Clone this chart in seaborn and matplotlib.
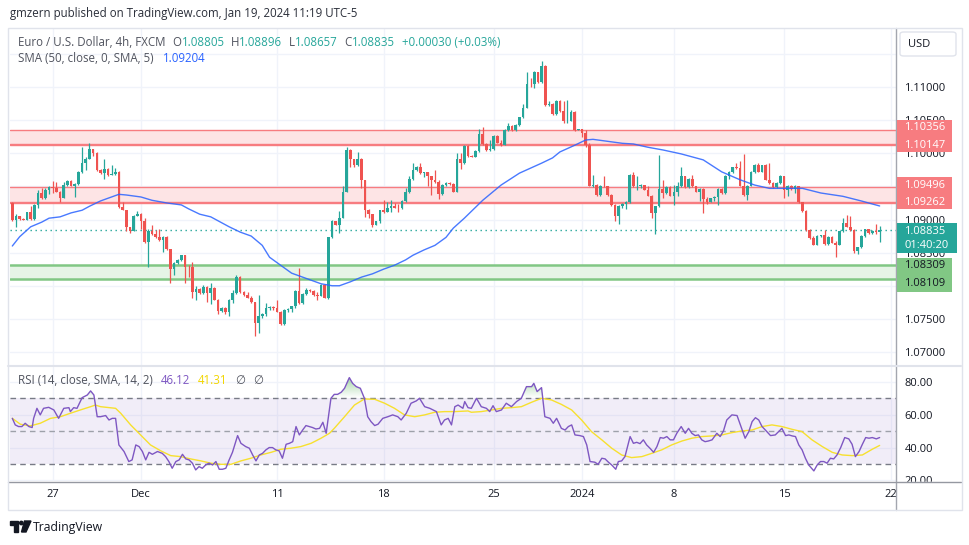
import numpy as np
import pandas as pd
import matplotlib
matplotlib.use("Agg")
import matplotlib.pyplot as plt
import seaborn as sns
from matplotlib.patches import Rectangle, FancyBboxPatch, Polygon, Ellipse
from matplotlib.lines import Line2D
from matplotlib.path import Path
from matplotlib.colors import LinearSegmentedColormap

################ DATA (EUR/USD 4h) ################

first_open = 1.09245

closes = [
    1.0900, 1.0905, 1.0901, 1.0900, 1.0911, 1.0901, 1.0922, 1.0940, 1.0932, 1.0945,
    1.0949, 1.0947, 1.0942, 1.0933, 1.0952, 1.0958, 1.0951, 1.0954, 1.0971, 1.0986,
    1.0992, 1.1006, 1.1001, 1.0974, 1.0970, 1.0976, 1.0967, 1.0969, 1.0972, 1.0919,
    1.0915, 1.0888, 1.0883, 1.0906, 1.0909, 1.0897, 1.0866, 1.0882, 1.0878, 1.0873,
    1.0869, 1.0874, 1.0855, 1.0825, 1.0835, 1.0839, 1.0846, 1.0829, 1.0828, 1.0790,
    1.0795, 1.0789, 1.0798, 1.0789, 1.0797, 1.0779, 1.0762, 1.0767, 1.0760, 1.0779,
    1.0789, 1.0813,
    1.0790, 1.0786, 1.0782, 1.0775, 1.0744, 1.0754, 1.0758, 1.0767, 1.0768, 1.0766,
    1.0761, 1.0742, 1.0764, 1.0765, 1.0769, 1.0792, 1.0774, 1.0787, 1.0794, 1.0792,
    1.0786, 1.0785, 1.0801, 1.0782, 1.0873, 1.0897, 1.0892, 1.0903, 1.0942, 1.1005,
    1.0991, 1.0982, 1.0992, 1.0959, 1.0914, 1.0908, 1.0892, 1.0897, 1.0914, 1.0912,
    1.0918, 1.0920, 1.0918, 1.0917, 1.0928, 1.0941, 1.0961, 1.0975, 1.0980, 1.0970,
    1.0971, 1.0965, 1.0959, 1.0956, 1.0938, 1.0952, 1.0955, 1.0953, 1.0942, 1.0991,
    1.0985, 1.1011, 1.0996, 1.0995, 1.1003, 1.1029, 1.1014,
    1.1005, 1.1006, 1.1026, 1.1016, 1.1013, 1.1035, 1.1041, 1.1035, 1.1043, 1.1054,
    1.1069, 1.1105, 1.1104, 1.1122, 1.1107, 1.1131, 1.1073, 1.1075, 1.1059, 1.1079,
    1.1064, 1.1048, 1.1049, 1.1063, 1.1035, 1.1036, 1.1031, 1.1013, 1.0951, 1.0952,
    1.0937, 1.0951, 1.0950, 1.0937, 1.0922, 1.0906, 1.0920, 1.0924, 1.0927, 1.0967,
    1.0950, 1.0951, 1.0952, 1.0945, 1.0936, 1.0910, 1.0920, 1.0946,
    1.0940, 1.0949, 1.0936, 1.0942, 1.0951, 1.0965, 1.0949, 1.0961, 1.0950, 1.0942,
    1.0946, 1.0931, 1.0927, 1.0932, 1.0934, 1.0946, 1.0940, 1.0966, 1.0972, 1.0979,
    1.0977, 1.0951, 1.0937, 1.0951, 1.0972, 1.0982, 1.0972, 1.0982, 1.0960, 1.0955,
    1.0949, 1.0955, 1.0965, 1.0945, 1.0950, 1.0946, 1.0950, 1.0926, 1.0913, 1.0884,
    1.0872, 1.0862, 1.0875, 1.0876, 1.0863, 1.0874, 1.0865, 1.0862, 1.0882, 1.0894,
    1.0889, 1.0884, 1.0852, 1.0858, 1.0875, 1.0885, 1.0879, 1.0882, 1.08805, 1.08835,
]

highs = [
    1.0926, 1.0909, 1.0906, 1.0902, 1.0912, 1.0920, 1.0923, 1.0945, 1.0947, 1.0947,
    1.0950, 1.0958, 1.0956, 1.0943, 1.0957, 1.0960, 1.0959, 1.0955, 1.0973, 1.1010,
    1.0994, 1.1016, 1.1007, 1.1002, 1.0976, 1.0992, 1.0977, 1.0983, 1.0977, 1.0973,
    1.0926, 1.0914, 1.0889, 1.0907, 1.0913, 1.0910, 1.0902, 1.0886, 1.0892, 1.0884,
    1.0885, 1.0875, 1.0875, 1.0855, 1.0836, 1.0840, 1.0847, 1.0847, 1.0832, 1.0836,
    1.0799, 1.0796, 1.0801, 1.0800, 1.0804, 1.0798, 1.0780, 1.0768, 1.0768, 1.0780,
    1.0794, 1.0816,
    1.0815, 1.0792, 1.0790, 1.0785, 1.0776, 1.0786, 1.0759, 1.0774, 1.0770, 1.0769,
    1.0779, 1.0762, 1.0765, 1.0766, 1.0770, 1.0794, 1.0827, 1.0789, 1.0796, 1.0795,
    1.0794, 1.0791, 1.0803, 1.0802, 1.0874, 1.0899, 1.0898, 1.0913, 1.0951, 1.1009,
    1.1006, 1.0992, 1.1002, 1.0993, 1.0960, 1.0916, 1.0909, 1.0898, 1.0915, 1.0929,
    1.0927, 1.0929, 1.0925, 1.0923, 1.0929, 1.0947, 1.0965, 1.0986, 1.0981, 1.0985,
    1.0972, 1.0971, 1.0966, 1.0975, 1.0960, 1.0954, 1.0956, 1.0956, 1.0955, 1.1001,
    1.1001, 1.1013, 1.1012, 1.0997, 1.1005, 1.1036, 1.1039,
    1.1016, 1.1020, 1.1028, 1.1027, 1.1020, 1.1037, 1.1045, 1.1042, 1.1044, 1.1055,
    1.1074, 1.1122, 1.1113, 1.1124, 1.1122, 1.1139, 1.1133, 1.1079, 1.1076, 1.1081,
    1.1080, 1.1079, 1.1080, 1.1065, 1.1064, 1.1037, 1.1037, 1.1035, 1.1016, 1.0967,
    1.0953, 1.0952, 1.0965, 1.0951, 1.0938, 1.0923, 1.0922, 1.0925, 1.0928, 1.0969,
    1.0971, 1.0965, 1.0954, 1.0952, 1.0950, 1.0937, 1.0921, 1.0998,
    1.0960, 1.0950, 1.0950, 1.0952, 1.0957, 1.0980, 1.0966, 1.0962, 1.0967, 1.0951,
    1.0947, 1.0947, 1.0934, 1.0933, 1.0935, 1.0947, 1.0947, 1.0967, 1.0973, 1.0980,
    1.0985, 1.0989, 1.0999, 1.0952, 1.0973, 1.0984, 1.0985, 1.0983, 1.0984, 1.0986,
    1.0957, 1.0956, 1.0967, 1.0966, 1.0952, 1.0952, 1.0952, 1.0951, 1.0927, 1.0914,
    1.0886, 1.0875, 1.0876, 1.0877, 1.0884, 1.0875, 1.0875, 1.0867, 1.0883, 1.0902,
    1.0907, 1.0905, 1.0885, 1.0859, 1.0876, 1.0886, 1.0886, 1.0884, 1.0893, 1.08896,
]

lows = [
    1.0897, 1.0888, 1.0899, 1.0899, 1.0899, 1.0900, 1.0900, 1.0918, 1.0931, 1.0931,
    1.0938, 1.0940, 1.0941, 1.0926, 1.0932, 1.0951, 1.0950, 1.0934, 1.0952, 1.0970,
    1.0975, 1.0991, 1.0996, 1.0973, 1.0969, 1.0961, 1.0966, 1.0967, 1.0967, 1.0918,
    1.0914, 1.0883, 1.0879, 1.0882, 1.0905, 1.0886, 1.0865, 1.0829, 1.0877, 1.0872,
    1.0868, 1.0851, 1.0854, 1.0804, 1.0816, 1.0833, 1.0837, 1.0804, 1.0813, 1.0781,
    1.0778, 1.0788, 1.0788, 1.0775, 1.0773, 1.0778, 1.0758, 1.0761, 1.0757, 1.0755,
    1.0774, 1.0788,
    1.0789, 1.0785, 1.0781, 1.0774, 1.0724, 1.0729, 1.0752, 1.0755, 1.0764, 1.0764,
    1.0760, 1.0741, 1.0741, 1.0761, 1.0761, 1.0767, 1.0773, 1.0773, 1.0786, 1.0790,
    1.0785, 1.0779, 1.0784, 1.0781, 1.0780, 1.0872, 1.0891, 1.0880, 1.0902, 1.0941,
    1.0980, 1.0979, 1.0981, 1.0947, 1.0904, 1.0903, 1.0888, 1.0891, 1.0895, 1.0910,
    1.0911, 1.0912, 1.0917, 1.0912, 1.0916, 1.0927, 1.0940, 1.0960, 1.0973, 1.0968,
    1.0964, 1.0951, 1.0937, 1.0955, 1.0931, 1.0937, 1.0951, 1.0952, 1.0941, 1.0941,
    1.0976, 1.0984, 1.0995, 1.0994, 1.0994, 1.1002, 1.1013,
    1.1004, 1.1004, 1.1005, 1.1015, 1.1011, 1.1012, 1.1034, 1.1034, 1.1034, 1.1041,
    1.1053, 1.1068, 1.1100, 1.1098, 1.1106, 1.1106, 1.1072, 1.1071, 1.1058, 1.1058,
    1.1063, 1.1045, 1.1046, 1.1048, 1.1034, 1.1035, 1.1025, 1.1010, 1.0950, 1.0949,
    1.0936, 1.0936, 1.0949, 1.0936, 1.0920, 1.0898, 1.0893, 1.0918, 1.0916, 1.0925,
    1.0949, 1.0944, 1.0948, 1.0944, 1.0935, 1.0903, 1.0878, 1.0919,
    1.0932, 1.0939, 1.0935, 1.0922, 1.0935, 1.0949, 1.0948, 1.0948, 1.0949, 1.0941,
    1.0928, 1.0910, 1.0924, 1.0926, 1.0928, 1.0922, 1.0939, 1.0939, 1.0961, 1.0970,
    1.0976, 1.0950, 1.0936, 1.0929, 1.0950, 1.0970, 1.0971, 1.0971, 1.0959, 1.0954,
    1.0947, 1.0947, 1.0954, 1.0932, 1.0936, 1.0945, 1.0940, 1.0925, 1.0912, 1.0883,
    1.0871, 1.0861, 1.0861, 1.0874, 1.0862, 1.0862, 1.0864, 1.0844, 1.0861, 1.0881,
    1.0888, 1.0883, 1.0849, 1.0848, 1.0857, 1.0874, 1.0878, 1.0878, 1.0878, 1.08657,
]

# SMA(50) read at bar positions
sma_bar = [0, 2, 5, 8, 10, 13, 16, 19, 21, 24, 27, 29, 31, 35, 38, 42, 46, 48, 51, 54,
           57, 59, 62, 65, 68, 70, 73, 76, 79, 81, 84, 87, 89, 92, 95, 98, 101, 104, 107, 109,
           112, 115, 118, 120, 123, 128, 133, 138, 144, 147, 149, 153, 156, 158, 162, 166, 169, 173, 177, 182,
           188, 193, 198, 202, 206, 211, 215, 220, 226, 231, 236]
sma_val = [1.0860, 1.0874, 1.0889, 1.0896, 1.0902, 1.0904, 1.0910, 1.0914, 1.0920, 1.0928,
           1.0934, 1.0938, 1.0937, 1.0934, 1.0929, 1.0925, 1.0922, 1.0916, 1.0908, 1.0904,
           1.0895, 1.0889, 1.0881, 1.0875, 1.0861, 1.0843, 1.0831, 1.0819, 1.0813, 1.0809,
           1.0803, 1.0800, 1.0800, 1.0806, 1.0813, 1.0818, 1.0825, 1.0831, 1.0839, 1.0846,
           1.0854, 1.0861, 1.0873, 1.0887, 1.0902, 1.0929, 1.0952, 1.0970, 1.0985, 1.0993,
           1.1002, 1.1012, 1.1020, 1.1021, 1.1018, 1.1015, 1.1014, 1.1009, 1.1005, 1.0999,
           1.0990, 1.0972, 1.0960, 1.0952, 1.0947, 1.0947, 1.0947, 1.0940, 1.0935, 1.0928,
           1.09204]

# RSI(14)
rsi_bar = [0, 0.8, 1.7, 2.6, 3.5, 4.5, 5.4, 5.8, 6.7, 7.6,
           8.5, 9.9, 11.3, 12.6, 14.0, 15.4, 15.8, 16.7, 17.6, 19.0,
           20.4, 21.3, 22.2, 23.1, 24.0, 25.4, 26.3, 27.2, 28.1, 29.0,
           30.4, 31.7, 32.6, 33.6, 34.5, 35.4, 36.3, 37.2, 38.1, 39.5,
           40.8, 41.7, 42.6, 43.5, 44.5, 45.4, 46.3, 47.2, 48.1, 49.0,
           49.9, 50.8, 51.7, 52.6, 53.5, 54.5, 55.4, 56.3, 57.2, 58.1,
           59.0, 59.9, 61.3, 62.2, 63.5, 64.5, 65.4, 66.3, 67.2, 68.1,
           69.0, 69.9, 70.8, 71.7, 72.6, 73.5, 74.5, 75.4, 76.3, 77.2,
           78.1, 79.0, 79.9, 80.8, 81.7, 82.6, 83.6, 84.5, 85.4, 86.7,
           87.6, 88.5, 89.5, 90.4, 91.7, 92.6, 93.6, 94.7, 95.8, 96.7,
           97.6, 98.6, 99.5, 100.8, 102.2, 103.5, 104.9, 105.8, 107.2, 108.5,
           109.9, 110.8, 112.2, 113.6, 115.4, 116.7, 117.6, 118.6, 119.5, 120.4,
           121.3, 122.6, 123.1, 124.0,
           124.9, 126.3, 127.6, 129.0, 129.9, 130.8, 131.7, 133.1, 134.4, 135.8,
           137.2, 138.5, 139.9, 141.3, 141.9, 142.8, 144.0, 144.9, 146.3, 147.2,
           148.1, 149.4, 150.4, 151.3, 152.2, 153.1, 154.4, 155.4, 156.3, 157.2,
           158.5, 159.4, 160.4, 161.3, 162.2, 163.1, 164.2, 164.9, 165.8, 166.7,
           168.1, 169.0, 169.9, 170.8, 171.7, 172.6, 173.5, 174.5, 175.4, 176.3,
           177.2, 178.1, 179.0, 179.9, 180.8, 182.0, 183.1, 184.0, 184.9, 185.8,
           186.7, 187.6, 188.5, 189.4, 190.4, 191.7, 192.6, 193.5, 194.4, 195.8,
           197.2, 198.1, 199.4, 200.4, 201.3, 202.2, 203.1, 204.0, 204.9, 206.3,
           207.6, 208.5, 209.4, 210.4, 211.3, 212.2, 213.1, 214.0, 214.9, 215.8,
           216.7, 218.1, 219.0, 219.9, 220.8, 221.7, 222.6, 223.5, 224.4, 225.4,
           226.5, 227.6, 228.5, 229.4, 230.4, 231.3, 232.2, 233.1, 234.0, 235.1,
           236.0]
rsi_val = [57.8, 53.8, 52.8, 52.8, 54.8, 52.8, 52.2, 57.8, 63.9, 59.9,
           63.9, 64.5, 62.9, 57.8, 63.9, 64.3, 61.9, 64.3, 63.9, 70.4,
           72.0, 74.5, 72.0, 58.8, 58.8, 59.5, 56.8, 57.8, 57.8, 41.6,
           37.6, 31.5, 32.5, 41.6, 40.6, 37.6, 32.5, 37.1, 35.9, 37.6,
           36.5, 34.5, 31.5, 27.4, 31.5, 32.5, 35.9, 33.1, 32.5, 30.5,
           26.4, 28.4, 27.4, 29.4, 30.5, 29.4, 31.5, 26.8, 26.8, 27.4,
           32.5, 37.1, 47.3, 42.6, 40.6, 39.6, 35.5, 31.9, 35.5, 36.5,
           38.6, 40.0, 40.0, 38.6, 38.0, 33.5, 42.0, 42.6, 43.6, 52.8,
           47.7, 50.7, 53.4, 52.8, 52.2, 51.3, 51.7, 55.4, 48.7, 70.0,
           72.4, 72.4, 73.7, 76.1, 82.6, 79.1, 77.1, 76.1, 70.0, 58.8,
           55.8, 53.4, 54.2, 57.8, 58.8, 59.9, 58.8, 56.8, 60.9, 67.0,
           68.4, 70.0, 64.9, 63.9, 61.9, 53.8, 56.8, 57.8, 53.8, 64.9,
           65.9, 63.9, 68.0, 64.3,
           63.9, 70.0, 64.9, 63.9, 61.9, 65.5, 61.9, 62.9, 67.0, 64.9,
           68.0, 70.0, 77.1, 77.1, 79.1, 74.1, 76.5, 58.8, 57.8, 54.8,
           57.8, 51.7, 50.7, 52.8, 53.8, 47.7, 47.3, 46.7, 41.6, 31.5,
           31.1, 29.8, 33.5, 33.1, 31.1, 29.4, 26.8, 31.5, 31.9, 34.5,
           46.7, 42.6, 43.2, 42.4, 44.7, 41.6, 39.6, 37.1, 40.6, 46.1,
           45.7, 46.7, 44.7, 44.7, 48.7, 52.8, 48.7, 51.7, 48.7, 47.3,
           47.7, 44.7, 43.6, 44.0, 44.7, 48.7, 46.7, 50.1, 56.8, 59.9,
           59.5, 53.8, 45.7, 49.7, 55.8, 58.2, 56.8, 52.8, 50.7, 47.3,
           47.7, 49.7, 51.7, 47.3, 47.7, 47.1, 46.7, 41.6, 38.6, 33.5,
           29.4, 25.8, 29.4, 31.5, 31.5, 30.5, 33.5, 33.1, 35.5, 40.0,
           46.1, 45.3, 42.0, 34.5, 37.6, 42.0, 46.1, 45.7, 46.1, 45.3,
           46.12]

# RSI-based moving average (14)
rsi_ma_bar = [0, 2.2, 4.9, 7.6, 10.4, 13.1, 15.8, 18.5, 21.3, 22.6,
              24.0, 28.1, 29.5, 32.2, 34.9, 37.6, 40.4, 43.1, 45.8, 48.5,
              51.3, 54.0, 56.7, 59.5, 62.2, 64.9, 67.6, 70.4, 73.1, 75.8,
              78.5, 81.3, 84.0, 86.3, 87.6, 90.4, 93.1, 95.8, 98.6, 101.3,
              104.0, 106.7, 109.5, 112.2, 114.9, 117.6, 120.4, 124.0,
              124.9, 127.6, 130.4, 133.1, 135.8, 138.5, 141.3, 144.0, 146.7, 149.4,
              152.2, 154.9, 157.6, 160.4, 163.1, 165.8, 168.5, 171.3, 174.0, 176.7,
              179.4, 182.2, 184.9, 187.6, 190.4, 193.1, 195.8, 198.5, 201.3, 204.0,
              206.7, 209.4, 212.2, 214.9, 217.6, 220.4, 223.1, 225.8, 228.5, 231.3,
              234.0, 236.0]
rsi_ma_val = [57.8, 54.2, 53.2, 54.8, 57.8, 58.8, 60.9, 62.9, 64.9, 65.9,
              64.9, 63.9, 60.9, 53.8, 47.7, 41.6, 38.0, 35.1, 34.5, 33.1,
              31.9, 30.5, 29.8, 29.8, 31.9, 33.5, 35.5, 37.1, 39.0, 39.6,
              40.6, 42.6, 45.7, 48.7, 51.7, 58.8, 65.9, 69.6, 69.4, 67.0,
              63.9, 59.9, 58.8, 59.9, 61.5, 61.9, 61.9, 62.3,
              61.5, 61.9, 62.9, 63.9, 64.3, 64.9, 67.6, 70.0, 69.0, 66.3,
              62.9, 56.8, 49.7, 44.7, 39.6, 35.5, 33.9, 34.5, 36.5, 38.6,
              41.6, 44.0, 45.7, 46.7, 47.1, 47.7, 49.1, 50.1, 50.7, 52.8,
              53.8, 52.8, 51.1, 49.7, 44.7, 40.6, 37.1, 35.5, 35.1, 35.5,
              39.0, 41.31]

tick_bars = [11, 35, 72, 101, 131, 155, 180, 210, 239]
tick_labels = ["27", "Dec", "11", "18", "25", "2024", "8", "15", "22"]
price_ticks = [1.070, 1.075, 1.080, 1.085, 1.090, 1.095, 1.100, 1.105, 1.110, 1.115]
price_tick_labels = ["1.07000", "1.07500", "", "1.08500", "1.09000", "", "1.10000", "1.10500", "1.11000", ""]
rsi_ticks = [20, 40, 60, 80]

red_zone_top = [1.10356, 1.09496]
red_zone_bottom = [1.10147, 1.09262]
green_zone = [1.08109, 1.08309]
last_price = 1.08835

################ STYLE ################
sns.set_style("white")
plt.rcParams["font.family"] = ["Open Sans", "DejaVu Sans"]

GREEN = "#26a69a"
RED = "#ef5350"
TXT = "#131722"
GREY = "#50535e"
ZONE_RED = "#f77c80"
ZONE_GREEN = "#81c784"
GRID = "#f0f3fa"

W, H = 970, 545
fig = plt.figure(figsize=(W / 100, H / 100), dpi=100)


def fx(x):
    return x / W


def fy(y):
    return 1 - y / H


def box(l, t, r, b):
    return [l / W, 1 - b / H, (r - l) / W, (b - t) / H]


ax = fig.add_axes(box(10, 28, 896, 365))
ax_r = fig.add_axes(box(10, 367, 896, 481))
ax_t = fig.add_axes(box(10, 482, 896, 510))

XLIM = (-0.63, 240.45)

################ CANDLES ################
df = pd.DataFrame({"close": closes, "high": highs, "low": lows})
df["open"] = [first_open] + closes[:-1]
df["bar"] = np.arange(len(df))
df["high"] = df[["high", "open", "close"]].max(axis=1)
df["low"] = df[["low", "open", "close"]].min(axis=1)
df["up"] = df["close"] >= df["open"]
df["body_lo"] = df[["open", "close"]].min(axis=1)
df["body_h"] = (df["close"] - df["open"]).abs().clip(lower=0.00008)

for p in price_ticks:
    ax.axhline(p, color=GRID, lw=1, zorder=0)
for b in tick_bars:
    ax.axvline(b, color=GRID, lw=1, zorder=0)
    ax_r.axvline(b, color=GRID, lw=1, zorder=0)

# support / resistance zones
for top, bot in zip(red_zone_top, red_zone_bottom):
    ax.axhspan(bot - 0.0002, top, color="#fde4e5", lw=0, zorder=1)
    ax.axhline(top, color=ZONE_RED, lw=1, zorder=2)
    ax.axhline(bot, color=ZONE_RED, lw=1, zorder=2)
    ax.axhline(bot - 0.0002, color=ZONE_RED, lw=1, zorder=2)
ax.axhspan(green_zone[0], green_zone[1], color="#e6f4e6", lw=0, zorder=1)
for g in green_zone:
    ax.axhline(g, color=ZONE_GREEN, lw=1.8, zorder=2)

ax.axhline(last_price, color=GREEN, lw=1, ls=(0, (1, 2.6)), zorder=2)

for up, color in [(True, GREEN), (False, RED)]:
    d = df[df["up"] == up]
    ax.vlines(d["bar"], d["low"], d["high"], color=color, lw=0.9, zorder=3)
    ax.bar(d["bar"], d["body_h"], bottom=d["body_lo"], width=0.72, color=color, lw=0, zorder=4)

sns.lineplot(x=sma_bar, y=sma_val, ax=ax, color="#2962ff", lw=1, alpha=0.85,
             estimator=None, sort=False, zorder=5)

ax.set_xlim(*XLIM)
ax.set_ylim(1.068038, 1.118906)
ax.set_xticks([])
ax.yaxis.tick_right()
ax.set_yticks(price_ticks)
ax.set_yticklabels(price_tick_labels)
ax.tick_params(axis="y", length=0, pad=6, labelsize=8, labelcolor=TXT)
ax.set_xlabel("")
ax.set_ylabel("")
for s in ax.spines.values():
    s.set_visible(False)

################ RSI ################
for r in rsi_ticks:
    ax_r.axhline(r, color=GRID, lw=1, zorder=0)
ax_r.axhspan(30, 70, color="#7e57c2", alpha=0.1, lw=0, zorder=1)
ax_r.axhline(70, color="#787b86", lw=1, ls=(0, (4, 3)), zorder=2)
ax_r.axhline(30, color="#787b86", lw=1, ls=(0, (4, 3)), zorder=2)
ax_r.axhline(50, color="#9ea1aa", lw=1, ls=(0, (4, 3)), zorder=2)

rb = np.array(rsi_bar)
rv = np.array(rsi_val)
fill = ax_r.fill_between(rb, rv, 70, where=rv > 70, interpolate=True, color="none", lw=0)
clip = Path.make_compound_path(*fill.get_paths())
cmap = LinearSegmentedColormap.from_list("ob", [(0.3, 0.69, 0.31, 0.0), (0.3, 0.69, 0.31, 0.55)])
grad = np.linspace(0, 1, 64).reshape(-1, 1)
im = ax_r.imshow(grad, extent=[XLIM[0], XLIM[1], 70, 84], origin="lower", aspect="auto",
                 cmap=cmap, zorder=2)
im.set_clip_path(clip, ax_r.transData)

sns.lineplot(x=rsi_ma_bar, y=rsi_ma_val, ax=ax_r, color="#f7e02e", lw=1,
             estimator=None, sort=False, zorder=3)
sns.lineplot(x=rsi_bar, y=rsi_val, ax=ax_r, color="#7e57c2", lw=1,
             estimator=None, sort=False, zorder=4)

ax_r.set_xlim(*XLIM)
ax_r.set_ylim(19.65, 89.06)
ax_r.set_xticks([])
ax_r.yaxis.tick_right()
ax_r.set_yticks(rsi_ticks)
ax_r.set_yticklabels([f"{r:.2f}" for r in rsi_ticks])
ax_r.tick_params(axis="y", length=0, pad=6, labelsize=8, labelcolor=TXT)
ax_r.set_xlabel("")
ax_r.set_ylabel("")
for s in ax_r.spines.values():
    s.set_visible(False)

################ TIME AXIS ################
ax_t.set_xlim(*XLIM)
ax_t.axis("off")
for b, lab in zip(tick_bars, tick_labels):
    ax_t.text(b, 0.55, lab, transform=ax_t.get_xaxis_transform(), ha="center", va="center",
              fontsize=8, color=TXT, clip_on=True)

################ FRAME / SEPARATORS ################
fig.patches.append(Rectangle((fx(897), fy(497)), fx(962) - fx(897), fy(482) - fy(497),
                             transform=fig.transFigure, color="white", zorder=4))
fig.patches.append(Rectangle((fx(8.5), fy(510)), fx(961.5) - fx(8.5), fy(27.5) - fy(510),
                             transform=fig.transFigure, fill=False, edgecolor="#e0e3eb", lw=1, zorder=5))
fig.lines.append(Line2D([fx(896.5), fx(896.5)], [fy(27.5), fy(510)], transform=fig.transFigure,
                        color="#a3a6af", lw=1, zorder=5))
fig.lines.append(Line2D([fx(8.5), fx(961.5)], [fy(481.5), fy(481.5)], transform=fig.transFigure,
                        color="#9598a1", lw=1, zorder=5))
fig.lines.append(Line2D([fx(8.5), fx(961.5)], [fy(366), fy(366)], transform=fig.transFigure,
                        color="#e0e3eb", lw=1.5, zorder=5))

# USD box
fig.patches.append(FancyBboxPatch((fx(900), fy(56)), fx(956) - fx(900), fy(32) - fy(56),
                                  boxstyle="round,pad=0,rounding_size=0.004",
                                  transform=fig.transFigure, facecolor="white",
                                  edgecolor="#e0e3eb", lw=1, zorder=5))
fig.text(fx(919), fy(44.5), "USD", fontsize=8, color=TXT, ha="center", va="center", zorder=6)

# price labels on the axis
label_blocks = [
    (119.5, 152.3, 952, ZONE_RED, "white", [("1.10356", 127.5), ("1.10147", 145.0)]),
    (176.7, 209.3, 952, ZONE_RED, "white", [("1.09496", 185.0), ("1.09262", 202.7)]),
    (223.3, 253.3, 957, GREEN, "white", [("1.08835", 231.5), ("01:40:20", 246.0)]),
    (258.3, 291.7, 952, ZONE_GREEN, TXT, [("1.08309", 266.0), ("1.08109", 284.0)]),
]
for top, bot, right, bg, fg, texts in label_blocks:
    fig.patches.append(Rectangle((fx(897), fy(bot)), fx(right) - fx(897), fy(top) - fy(bot),
                                 transform=fig.transFigure, color=bg, lw=0, zorder=5))
    for s, yy in texts:
        fig.text(fx(904.5), fy(yy), s, fontsize=8, color=fg, ha="left", va="center", zorder=6)

################ TEXTS ################
renderer = fig.canvas.get_renderer()


def chain(x, y, parts, size):
    for s, color, gap in parts:
        t = fig.text(fx(x), fy(y), s, fontsize=size, color=color, ha="left", va="center", zorder=6)
        x = t.get_window_extent(renderer).x1 + gap


fig.text(fx(10), fy(14), "gmzern published on TradingView.com, Jan 19, 2024 11:19 UTC-5",
         fontsize=8.3, color="#2a2e39", ha="left", va="center")

chain(18, 42, [("Euro / U.S. Dollar, 4h, FXCM", GREY, 7),
               ("O", GREY, 0), ("1.08805", GREEN, 6),
               ("H", GREY, 0), ("1.08896", GREEN, 7),
               ("L", GREY, 0), ("1.08657", GREEN, 7),
               ("C", GREY, 0), ("1.08835", GREEN, 7),
               ("+0.00030 (+0.03%)", GREEN, 0)], 8.3)
chain(18, 58, [("SMA (50, close, 0, SMA, 5)", GREY, 9), ("1.09204", "#2962ff", 0)], 8.3)
chain(18, 381, [("RSI (14, close, SMA, 14, 2)", GREY, 8), ("46.12", "#7e57c2", 8),
                ("41.31", "#f2d600", 8), ("\u2205", GREY, 8), ("\u2205", GREY, 0)], 8.3)

# TradingView logo
logo = "#131722"
fig.patches.append(Polygon([(fx(10), fy(521)), (fx(18), fy(521)), (fx(18), fy(532)), (fx(14.5), fy(532)),
                            (fx(14.5), fy(524.5)), (fx(10), fy(524.5))], closed=True,
                           transform=fig.transFigure, color=logo, zorder=6))
fig.patches.append(Ellipse((fx(21.3), fy(523)), 3.4 / W, 3.4 / H, transform=fig.transFigure,
                           color=logo, zorder=6))
fig.patches.append(Polygon([(fx(24.5), fy(521)), (fx(31), fy(521)), (fx(26), fy(532)), (fx(21.5), fy(532))],
                           closed=True, transform=fig.transFigure, color=logo, zorder=6))
fig.text(fx(33), fy(527), "TradingView", fontsize=8.8, color=logo, ha="left", va="center")

print("candles:", len(df))
fig.savefig("out.png", dpi=100)
